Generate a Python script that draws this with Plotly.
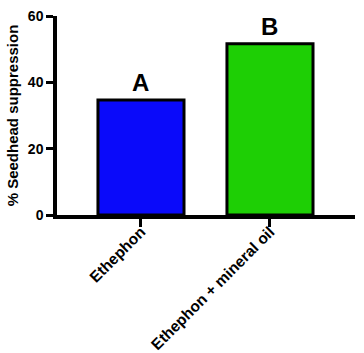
import plotly.graph_objects as go

categories = ["Ethephon", "Ethephon + mineral oil"]
values = [34.7, 51.6]
letters = ["A", "B"]
colors = ["#0A0AFA", "#1ECF05"]
y_ticks = [0, 20, 40, 60]

FONT = "Liberation Sans, Arial, sans-serif"

fig = go.Figure()
fig.add_trace(go.Bar(
    x=categories, y=values, width=0.667,
    marker=dict(color=colors, line=dict(color="black", width=3)),
))
for c, v, t in zip(categories, values, letters):
    fig.add_annotation(x=c, y=v, text=t, showarrow=False, yanchor="bottom", yshift=2,
                       font=dict(family=FONT, size=24, color="black", weight="bold"))

fig.update_layout(
    width=364, height=353,
    margin=dict(l=57, r=9, t=16, b=138),
    plot_bgcolor="white", paper_bgcolor="white",
    showlegend=False,
    font=dict(family=FONT, color="black"),
)
fig.update_xaxes(
    range=[-0.651, 1.659], showline=True, linecolor="black", linewidth=3.5,
    ticks="outside", ticklen=8, tickwidth=3, tickcolor="black",
    tickangle=-45, tickfont=dict(family=FONT, size=15.5, weight="bold"),
    ticklabelstandoff=-10,
    showgrid=False, zeroline=False, automargin=False,
)
fig.update_yaxes(
    range=[0, 60], tickvals=y_ticks, showline=True, linecolor="black", linewidth=3.5,
    ticks="outside", ticklen=7, tickwidth=3, tickcolor="black",
    tickfont=dict(family=FONT, size=14, weight="bold"),
    title=dict(text="% Seedhead suppression", font=dict(family=FONT, size=15, weight="bold"), standoff=7),
    showgrid=False, zeroline=False, automargin=False,
)
fig.write_html("out.html")
